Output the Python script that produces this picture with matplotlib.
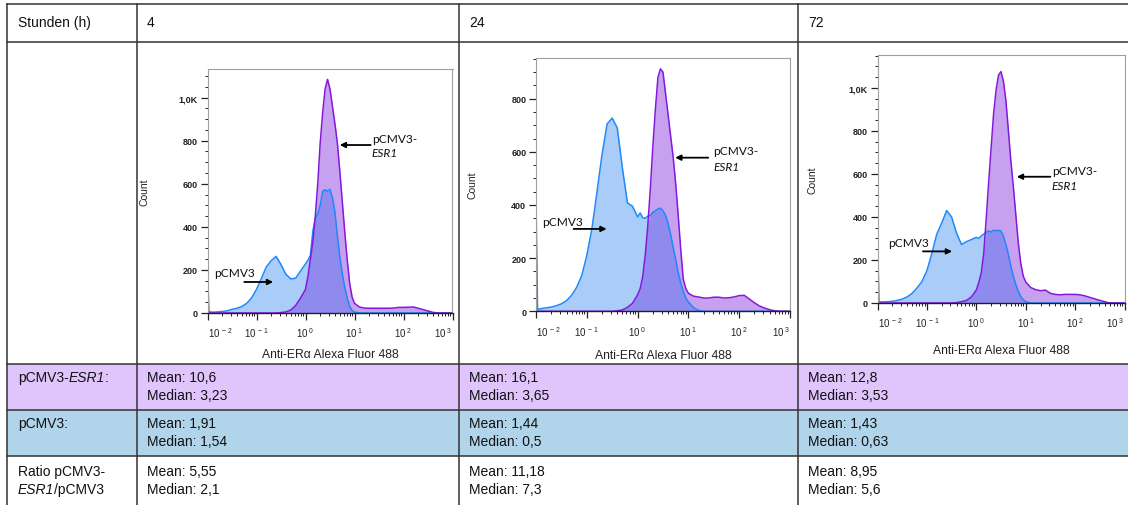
import matplotlib.pyplot as plt
import matplotlib.transforms as mtransforms
import numpy as np
from matplotlib.lines import Line2D
from matplotlib.patches import Rectangle
from matplotlib.text import Annotation
from matplotlib.ticker import FixedLocator, LogLocator, MultipleLocator, NullFormatter

plt.rcParams['font.family'] = ['Liberation Sans', 'DejaVu Sans']
plt.rcParams['mathtext.fontset'] = 'custom'
plt.rcParams['mathtext.rm'] = 'Liberation Sans'
plt.rcParams['mathtext.it'] = 'Liberation Sans:italic'
plt.rcParams['mathtext.bf'] = 'Liberation Sans:bold'

# --- table contents ---
HOURS = ['4', '24', '72']
ESR1_MEAN = ['10,6', '16,1', '12,8']
ESR1_MEDIAN = ['3,23', '3,65', '3,53']
EMPTY_MEAN = ['1,91', '1,44', '1,43']
EMPTY_MEDIAN = ['1,54', '0,5', '0,63']
RATIO_MEAN = ['5,55', '11,18', '8,95']
RATIO_MEDIAN = ['2,1', '7,3', '5,6']

# --- histogram channels (log10 of Alexa Fluor 488 intensity) ---
LOG_X = [-2.0, -1.97, -1.9, -1.8, -1.7, -1.6, -1.5, -1.4, -1.3, -1.2,
         -1.1, -1.0, -0.9, -0.8, -0.7, -0.6, -0.5, -0.4, -0.3, -0.2,
         -0.1, 0.0, 0.05, 0.1, 0.15, 0.2, 0.25, 0.3, 0.35, 0.4,
         0.45, 0.5, 0.55, 0.6, 0.65, 0.7, 0.75, 0.8, 0.85, 0.9,
         0.95, 1.0, 1.1, 1.2, 1.3, 1.4, 1.5, 1.6, 1.7, 1.8,
         1.9, 2.0, 2.1, 2.2, 2.3, 2.4, 2.5, 2.6, 2.7, 2.8,
         2.9, 3.0]

# counts, pCMV3 (empty vector)
PCMV3_4H = [205, 6, 4, 5, 7, 10, 17, 22, 30, 45,
            70, 110, 160, 214, 243, 263, 225, 180, 158, 162,
            195, 228, 245, 268, 380, 440, 460, 500, 565, 572,
            566, 574, 535, 470, 360, 260, 185, 120, 70, 32,
            12, 4, 1, 0, 0, 0, 0, 0, 0, 0,
            0, 0, 0, 0, 0, 0, 0, 0, 0, 0,
            0, 0]
PCMV3_24H = [423, 8, 10, 13, 16, 21, 28, 40, 60, 90,
             134, 210, 310, 448, 590, 705, 727, 690, 540, 408,
             395, 355, 370, 352, 350, 358, 360, 372, 378, 385,
             388, 378, 362, 330, 290, 240, 195, 145, 105, 75,
             50, 35, 14, 3, 0, 0, 0, 0, 0, 0,
             0, 0, 0, 0, 0, 0, 0, 0, 0, 0,
             0, 0]
PCMV3_72H = [336, 6, 5, 6, 8, 12, 18, 28, 45, 70,
             100, 150, 230, 320, 372, 430, 400, 325, 272, 285,
             295, 305, 300, 312, 320, 329, 335, 330, 338, 336,
             338, 334, 310, 270, 225, 170, 125, 85, 55, 30,
             15, 6, 0, 0, 0, 0, 0, 0, 0, 0,
             0, 0, 0, 0, 0, 0, 0, 0, 0, 0,
             0, 0]

# counts, pCMV3-ESR1
ESR1_4H = [0, 0, 0, 0, 0, 0, 0, 0, 0, 0,
           0, 0, 0, 0, 0, 0, 2, 5, 14, 35,
           70, 110, 170, 250, 330, 450, 600, 790, 930, 1040,
           1085, 1040, 960, 880, 790, 660, 520, 380, 250, 140,
           75, 45, 28, 23, 22, 22, 22, 22, 22, 23,
           26, 26, 27, 28, 22, 16, 9, 3, 0, 0,
           0, 0]
ESR1_24H = [0, 0, 0, 0, 0, 0, 0, 0, 0, 0,
            0, 0, 0, 0, 0, 0, 0, 2, 5, 15,
            30, 62, 85, 130, 210, 320, 460, 620, 760, 880,
            912, 900, 820, 740, 660, 580, 480, 360, 230, 120,
            85, 68, 57, 54, 50, 50, 53, 53, 50, 51,
            54, 59, 60, 46, 32, 20, 12, 6, 2, 0,
            0, 0]
ESR1_72H = [0, 0, 0, 0, 0, 0, 0, 0, 0, 0,
            0, 0, 0, 0, 0, 0, 0, 2, 6, 12,
            28, 60, 95, 140, 230, 390, 560, 720, 880, 990,
            1060, 1076, 1030, 940, 800, 660, 540, 410, 280, 185,
            125, 98, 72, 62, 57, 60, 45, 40, 38, 40,
            40, 40, 38, 33, 26, 19, 12, 6, 0, 0,
            0, 0]

PANELS = [
    dict(empty=PCMV3_4H, esr1=ESR1_4H, ymax=1133, yticks=[0, 200, 400, 600, 800, 1000],
         box=(207.5, 452.5, 70, 314), count_x=149, xlabel_y=349,
         empty_txt=(-1.87, 190), empty_arrow=(-1.25, -0.66, 144),
         esr1_txt=(1.35, 808, 743), esr1_arrow=(1.33, 0.70, 780)),
    dict(empty=PCMV3_24H, esr1=ESR1_24H, ymax=953, yticks=[0, 200, 400, 600, 800],
         box=(536, 790, 59, 312.3), count_x=478, xlabel_y=350,
         empty_txt=(-1.87, 339), empty_arrow=(-1.26, -0.61, 310),
         esr1_txt=(1.49, 605, 546), esr1_arrow=(1.39, 0.74, 578)),
    dict(empty=PCMV3_72H, esr1=ESR1_72H, ymax=1153, yticks=[0, 200, 400, 600, 800, 1000],
         box=(877.5, 1124.5, 56, 304), count_x=818, xlabel_y=345,
         empty_txt=(-1.79, 279), empty_arrow=(-1.08, -0.49, 240),
         esr1_txt=(1.53, 615, 546), esr1_arrow=(1.50, 0.82, 587)),
]

W, H = 1128, 506
BLUE_FILL = '#a9ccf8'
BLUE_LINE = '#1f88fb'
PURPLE_FILL = '#c8a0f0'
PURPLE_LINE = '#8419dd'
OVERLAP_FILL = '#8f8aee'
ROW_PURPLE = '#e0c5fc'
ROW_BLUE = '#b0d4ea'
GRID = '#333333'
INK = '#111111'


def fx(px):
    return px / W


def fy(py):
    return 1 - py / H


fig = plt.figure(figsize=(W / 100, H / 100), dpi=100)


def rich_text(px, py, parts, size=10):
    """Left-aligned line built from (text, style) pieces placed one after another."""
    prev = fig.text(fx(px), fy(py), parts[0][0], style=parts[0][1], fontsize=size,
                    va='center', ha='left', color=INK)
    for txt, st in parts[1:]:
        prev = fig.add_artist(Annotation(txt, xy=(1, 0), xycoords=prev, va='bottom', ha='left',
                                         style=st, fontsize=size, color=INK))


# coloured table rows
for top, bottom, color in [(365, 411, ROW_PURPLE), (411, 457, ROW_BLUE)]:
    fig.add_artist(Rectangle((fx(7), fy(bottom)), fx(1128) - fx(7), (bottom - top) / H,
                             transform=fig.transFigure, facecolor=color, edgecolor='none', zorder=0))

# table grid
for y in [5, 43, 365, 411, 457]:
    fig.add_artist(Line2D([fx(7), fx(1128)], [fy(y), fy(y)], transform=fig.transFigure,
                          color=GRID, lw=1.1, zorder=1))
for x in [7, 137, 459, 798]:
    fig.add_artist(Line2D([fx(x), fx(x)], [fy(5), fy(506)], transform=fig.transFigure,
                          color=GRID, lw=1.1, zorder=1))

# table text
rich_text(18, 23, [('Stunden (h)', 'normal')])
rich_text(18, 378, [('pCMV3-', 'normal'), ('ESR1', 'italic'), (':', 'normal')])
rich_text(18, 424, [('pCMV3:', 'normal')])
rich_text(18, 472, [('Ratio pCMV3-', 'normal')])
rich_text(18, 490, [('ESR1', 'italic'), ('/pCMV3', 'normal')])

col_x = [147, 469, 808]
for i, cx in enumerate(col_x):
    rich_text(cx, 23, [(HOURS[i], 'normal')])
    rich_text(cx, 378, [(f'Mean: {ESR1_MEAN[i]}', 'normal')])
    rich_text(cx, 396, [(f'Median: {ESR1_MEDIAN[i]}', 'normal')])
    rich_text(cx, 424, [(f'Mean: {EMPTY_MEAN[i]}', 'normal')])
    rich_text(cx, 442, [(f'Median: {EMPTY_MEDIAN[i]}', 'normal')])
    rich_text(cx, 472, [(f'Mean: {RATIO_MEAN[i]}', 'normal')])
    rich_text(cx, 490, [(f'Median: {RATIO_MEDIAN[i]}', 'normal')])

x = 10.0 ** np.array(LOG_X)
decades = [-2, -1, 0, 1, 2, 3]

for p in PANELS:
    l, r, t, b = p['box']
    ax = fig.add_axes([fx(l), fy(b), (r - l) / W, (b - t) / H])
    empty = np.array(p['empty'], dtype=float)
    esr1 = np.array(p['esr1'], dtype=float)

    ax.fill_between(x, empty, color=BLUE_FILL, lw=0)
    ax.fill_between(x, esr1, color=PURPLE_FILL, lw=0)
    ax.fill_between(x, np.minimum(empty, esr1), color=OVERLAP_FILL, lw=0)
    ax.plot(x, empty, color=BLUE_LINE, lw=1.1)
    ax.plot(x, esr1, color=PURPLE_LINE, lw=1.1)

    ax.set_xscale('log')
    ax.set_xlim(1e-2, 1e3)
    ax.set_ylim(0, p['ymax'])

    ax.xaxis.set_major_locator(FixedLocator([10.0 ** d for d in decades]))
    ax.xaxis.set_minor_locator(LogLocator(base=10, subs=np.arange(2, 10), numticks=20))
    ax.xaxis.set_minor_formatter(NullFormatter())
    ax.set_xticklabels([r'$\mathregular{10^{\ %d}}$' % d for d in decades])
    xlabels = ax.get_xticklabels()
    xlabels[0].set_ha('left')
    xlabels[0].set_transform(xlabels[0].get_transform()
                             + mtransforms.ScaledTranslation(3 / 100, 0, fig.dpi_scale_trans))
    xlabels[-1].set_ha('right')

    ax.yaxis.set_major_locator(FixedLocator(p['yticks']))
    ax.yaxis.set_minor_locator(MultipleLocator(50))
    ax.set_yticklabels(['1,0K' if v == 1000 else str(v) for v in p['yticks']])

    ax.tick_params(axis='both', which='major', direction='out', length=5, width=0.9,
                   color='#222222', labelsize=6.5, labelcolor='#222222', pad=2)
    ax.tick_params(axis='both', which='minor', direction='out', length=2.5, width=0.7, color='#222222')
    ax.tick_params(axis='x', which='major', labelsize=7, pad=4)
    for lab in ax.get_yticklabels():
        lab.set_fontweight('bold')

    for side in ['top', 'right', 'left']:
        ax.spines[side].set_color('#a0a0a0')
        ax.spines[side].set_linewidth(0.8)
    ax.spines['bottom'].set_color('#222222')
    ax.spines['bottom'].set_linewidth(1.0)

    ax.set_ylabel('Count', fontsize=7.5, color='#222222')
    ax.yaxis.set_label_coords(-(l - p['count_x']) / (r - l), 0.5)
    ax.set_xlabel('Anti-ERα Alexa Fluor 488', fontsize=8.7, color='#222222')
    ax.xaxis.set_label_coords(0.5, -(p['xlabel_y'] - b) / (b - t))

    # gate labels with arrows
    ex, ey = p['empty_txt']
    ax.text(10 ** ex, ey, 'pCMV3', fontsize=8.6, family='Lato', va='center', ha='left', color=INK)
    a0, a1, ay = p['empty_arrow']
    ax.annotate('', xy=(10 ** a1, ay), xytext=(10 ** a0, ay),
                arrowprops=dict(arrowstyle='-|>', color='black', lw=1.3, mutation_scale=8,
                                shrinkA=0, shrinkB=0))
    sx, sy1, sy2 = p['esr1_txt']
    ax.text(10 ** sx, sy1, 'pCMV3-', fontsize=8.6, family='Lato', va='center', ha='left', color=INK)
    ax.text(10 ** sx, sy2, 'ESR1', fontsize=8.6, family='Lato', style='italic', va='center', ha='left',
            color=INK)
    a0, a1, ay = p['esr1_arrow']
    ax.annotate('', xy=(10 ** a1, ay), xytext=(10 ** a0, ay),
                arrowprops=dict(arrowstyle='-|>', color='black', lw=1.3, mutation_scale=8,
                                shrinkA=0, shrinkB=0))

fig.savefig('out.png', dpi=100)
